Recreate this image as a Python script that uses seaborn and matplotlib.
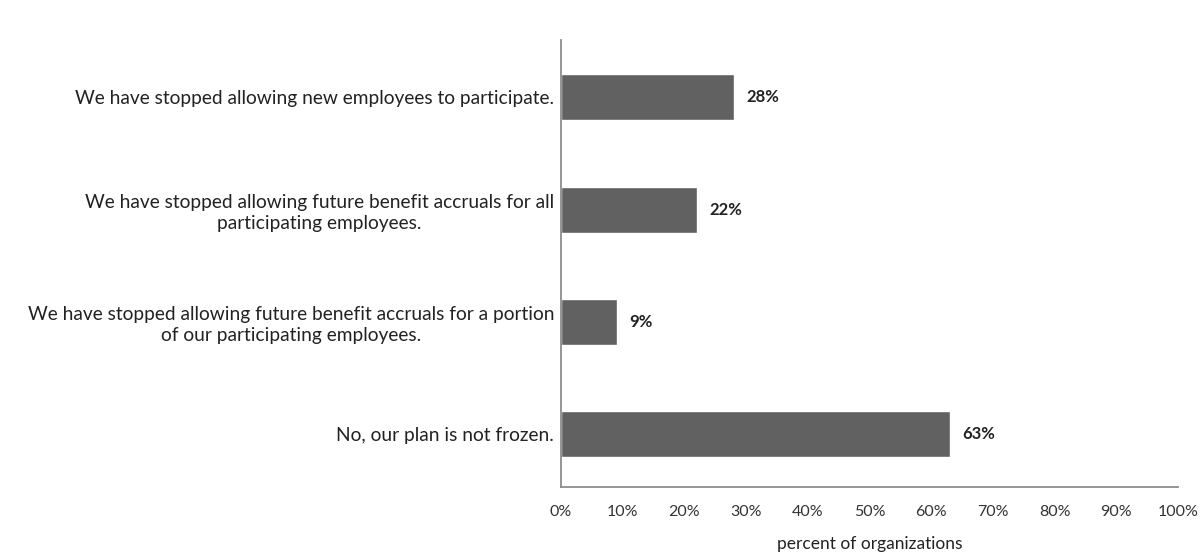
import matplotlib
matplotlib.use("Agg")
import matplotlib.pyplot as plt
import seaborn as sns
import pandas as pd
from matplotlib.ticker import FuncFormatter

categories = [
    "We have stopped allowing new employees to participate.",
    "We have stopped allowing future benefit accruals for all\nparticipating employees.",
    "We have stopped allowing future benefit accruals for a portion\nof our participating employees.",
    "No, our plan is not frozen.",
]
values = [28, 22, 9, 63]
xticks = [0, 10, 20, 30, 40, 50, 60, 70, 80, 90, 100]
xlabel = "percent of organizations"

sns.set_theme(style="white")
plt.rcParams['font.family'] = ['Lato', 'DejaVu Sans']

df = pd.DataFrame({"cat": categories, "val": values})

fig = plt.figure(figsize=(12, 5.54), dpi=100)
ax = fig.add_axes([561/1200, 1 - 487/554, (1178-561)/1200, (487-40)/554])
sns.barplot(data=df, x="val", y="cat", orient="h", color="#616161",
            saturation=1, width=0.41, ax=ax)

ax.set_xlim(0, 100)
ax.set_ylim(3.47, -0.51)
ax.set_xticks(xticks)
ax.xaxis.set_major_formatter(FuncFormatter(lambda v, p: f"{int(v)}%"))
ax.tick_params(axis='x', labelsize=11.5, colors="#333333", length=0, pad=13)
ax.tick_params(axis='y', labelsize=13.8, colors="#222222", length=0, pad=5)
for lbl in ax.get_yticklabels():
    lbl.set_multialignment('center')
    lbl.set_linespacing(1.25)

for s in ["top", "right"]:
    ax.spines[s].set_visible(False)
for s in ["left", "bottom"]:
    ax.spines[s].set_color("#8c8c8c")
    ax.spines[s].set_linewidth(1.3)

ax.set_ylabel("")
ax.set_xlabel(xlabel, fontsize=12.5, color="#222222", labelpad=12)

for i, v in enumerate(values):
    ax.text(v + 2, i, f"{v}%", va="center", ha="left", fontsize=12,
            fontweight="bold", color="#222222")

fig.savefig("out.png", dpi=100)
